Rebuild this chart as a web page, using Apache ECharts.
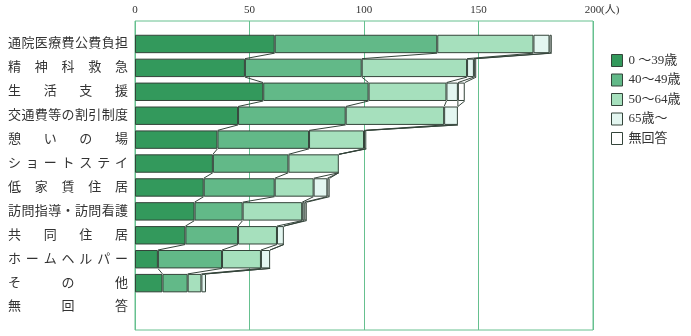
<!DOCTYPE html>
<html>
<head>
<meta charset="utf-8">
<script src="https://cdn.jsdelivr.net/npm/echarts@6/dist/echarts.min.js"></script>
<style>
  html, body { margin: 0; padding: 0; background: #fff; }
  #chart { width: 691px; height: 336px; }
</style>
</head>
<body>
<div id="chart"></div>
<script>
// Requested support services, respondents by age group (人)
const categories = ['通院医療費公費負担', '精神科救急', '生活支援', '交通費等の割引制度', '憩いの場',
  'ショートステイ', '低家賃住居', '訪問指導・訪問看護', '共同住居', 'ホームヘルパー', 'その他', '無回答'];
const seriesNames = ['0 ～39歳', '40～49歳', '50～64歳', '65歳～', '無回答'];
const age0to39  = [61, 48, 56, 45, 36, 34, 30, 26, 22, 10, 12, 0];
const age40to49 = [71, 51, 46, 47, 40, 33, 31, 21, 23, 28, 11, 0];
const age50to64 = [42, 46, 34, 43, 24, 22, 17, 26, 17, 17, 6, 0];
const age65plus = [7, 3, 5, 6, 1, 0, 6, 1, 3, 4, 2, 0];
const noAnswer  = [1, 1, 3, 0, 0, 0, 1, 1, 0, 0, 0, 0];
const xTicks = [0, 50, 100, 150, 200];

const groups = [age0to39, age40to49, age50to64, age65plus, noAnswer];
const colors = ['#33995c', '#62b988', '#a6e0bd', '#e3f6f0', '#ffffff'];
const BAR_RATIO = 0.77;
const FONT = "'Liberation Serif', 'Noto Sans CJK JP', serif";

// running totals per row: boundaries after each age group
const cumulative = categories.map((_, r) => {
  let s = 0;
  return groups.map(g => (s += g[r]));
});

// evenly spread the characters of each row label over a fixed width
const LABEL_W = 120, FS = 13;
const rich = {};
function spread(text) {
  const chars = Array.from(text);
  const n = chars.length;
  const key = 'w' + n;
  if (!rich[key]) {
    const cell = n > 1 ? FS + (LABEL_W - n * FS) / (n - 1) : LABEL_W;
    rich[key] = { width: cell, fontSize: FS, fontFamily: FONT, color: '#333', align: 'left' };
  }
  return chars.map((c, i) => i < n - 1 ? '{' + key + '|' + c + '}' : '{e|' + c + '}').join('');
}
rich.e = { width: FS, fontSize: FS, fontFamily: FONT, color: '#333', align: 'left' };
const labelText = categories.map(spread);

const barSeries = groups.map((g, k) => ({
  name: seriesNames[k],
  type: 'bar',
  stack: 'total',
  xAxisIndex: 1,
  yAxisIndex: 1,
  barWidth: (BAR_RATIO * 100) + '%',
  // empty groups are left out so no zero-width outline is drawn
  data: g.map(v => (v === 0 ? '-' : v)),
  itemStyle: { color: colors[k], borderColor: '#34443a', borderWidth: 1 },
  emphasis: { disabled: true },
  animation: false
}));

// connector lines joining the group boundaries of neighbouring bars
const connectors = {
  type: 'custom',
  xAxisIndex: 1,
  yAxisIndex: 1,
  silent: true,
  animation: false,
  encode: { x: 0, y: 1 },
  data: categories.slice(0, 10).map((_, r) => [0, r]),
  renderItem: function (params, api) {
    const r = api.value(1);
    const h = api.size([0, 1])[1] * BAR_RATIO;
    const children = [];
    for (let k = 0; k < groups.length; k++) {
      const a = api.coord([cumulative[r][k], r]);
      const b = api.coord([cumulative[r + 1][k], r + 1]);
      children.push({
        type: 'line',
        shape: { x1: a[0], y1: a[1] + h / 2, x2: b[0], y2: b[1] - h / 2 },
        style: { stroke: '#34443a', lineWidth: 1 }
      });
    }
    return { type: 'group', children };
  }
};

const chart = echarts.init(document.getElementById('chart'));
chart.setOption({
  backgroundColor: '#fff',
  animation: false,
  grid: [
    { left: 135, top: 21, width: 458, height: 309, show: true, borderColor: '#66c08f', borderWidth: 1, containLabel: false },
    { left: 135, top: 32, width: 458, height: 287, containLabel: false }
  ],
  xAxis: [
    {
      gridIndex: 0, type: 'value', position: 'top', min: xTicks[0], max: xTicks[xTicks.length - 1], interval: 50,
      axisLine: { show: false }, axisTick: { show: false },
      axisLabel: { fontFamily: FONT, fontSize: 11, color: '#333', margin: 5 },
      splitLine: { show: true, lineStyle: { color: '#66c08f', width: 1 } }
    },
    { gridIndex: 1, type: 'value', min: 0, max: 200, show: false, splitLine: { show: false } }
  ],
  yAxis: [
    { gridIndex: 0, type: 'value', show: false, splitLine: { show: false } },
    {
      gridIndex: 1, type: 'category', inverse: true, data: categories,
      axisLine: { show: false }, axisTick: { show: false },
      axisLabel: {
        margin: 7, align: 'right',
        formatter: (v, i) => labelText[i],
        rich: rich
      }
    }
  ],
  legend: {
    orient: 'vertical', left: 611, top: 54, padding: 0,
    itemWidth: 11, itemHeight: 12, itemGap: 6.5,
    icon: 'rect',
    data: seriesNames,
    itemStyle: { borderWidth: 1, borderColor: '#34443a' },
    textStyle: { fontFamily: FONT, fontSize: 13, color: '#333', lineHeight: 12, padding: [0, 0, 0, 1] },
    selectedMode: false
  },
  graphic: [
    { type: 'text', left: 601, top: 5, style: { text: '(人)', font: "11px 'Liberation Serif', 'Noto Sans CJK JP'", fill: '#333' } }
  ],
  series: barSeries.concat([connectors])
});
</script>
</body>
</html>
